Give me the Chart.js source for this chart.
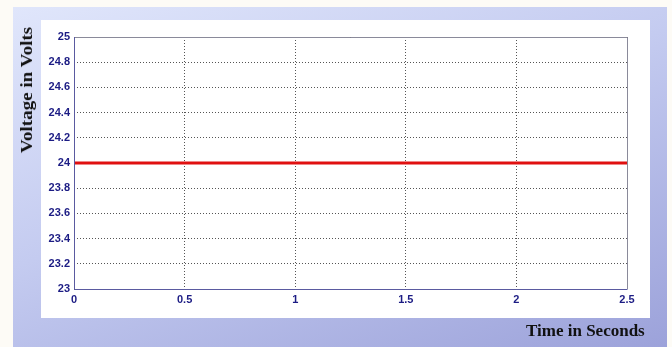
<!DOCTYPE html>
<html>
<head>
<meta charset="utf-8">
<script src="https://cdn.jsdelivr.net/npm/chart.js@4"></script>
<style>
  html, body { margin: 0; padding: 0; width: 672px; height: 347px; overflow: hidden; background: #fdfbf6; }
  #panel { position: absolute; left: 13px; top: 7px; width: 654px; height: 340px;
    background: linear-gradient(160deg, #e0e6fb 0%, #c4cbf0 45%, #9ca2da 100%); }
  #inner { position: absolute; left: 41px; top: 20px; width: 609px; height: 298px; background: #ffffff; }
  #wrap { position: absolute; left: 0; top: 0; width: 672px; height: 347px; }
  .t { position: absolute; font-family: "Liberation Serif", "Times New Roman", serif; font-weight: bold; color: #111; font-size: 17px; white-space: nowrap; }
  #ytitle { left: 27px; top: 90px; transform: translate(-50%, -50%) rotate(-90deg) scaleX(1.12); }
  #xtitle { left: 526px; top: 321px; }
</style>
</head>
<body>
<div id="panel"></div>
<div id="inner"></div>
<div id="wrap"><canvas id="c" width="672" height="347"></canvas></div>
<div class="t" id="ytitle">Voltage in Volts</div>
<div class="t" id="xtitle">Time in Seconds</div>
<script>
const timeSeconds = [0, 0.5, 1, 1.5, 2, 2.5];
const voltage = [24, 24, 24, 24, 24, 24];
const xTicks = [0, 0.5, 1, 1.5, 2, 2.5];
const yTicks = [23, 23.2, 23.4, 23.6, 23.8, 24, 24.2, 24.4, 24.6, 24.8, 25];

const tickFont = { family: '"Liberation Sans Narrow", "Arial Narrow", "Liberation Sans", Arial, sans-serif', size: 11, weight: 'bold' };
const tickColor = '#1c1c84';

const framePlugin = {
  id: 'frame',
  afterDatasetsDraw(chart) {
    const a = chart.chartArea, ctx = chart.ctx;
    ctx.save();
    ctx.lineWidth = 1;
    ctx.strokeStyle = '#8a8a9a';
    ctx.beginPath();
    ctx.moveTo(a.left, a.top + 0.5); ctx.lineTo(a.right + 0.5, a.top + 0.5); ctx.lineTo(a.right + 0.5, a.bottom);
    ctx.stroke();
    ctx.strokeStyle = '#5a5aa0';
    ctx.beginPath();
    ctx.moveTo(a.left + 0.5, a.top); ctx.lineTo(a.left + 0.5, a.bottom + 0.5); ctx.lineTo(a.right + 0.5, a.bottom + 0.5);
    ctx.stroke();
    ctx.restore();
  }
};

new Chart(document.getElementById('c'), {
  type: 'line',
  data: {
    datasets: [{
      data: timeSeconds.map((t, i) => ({ x: t, y: voltage[i] })),
      borderColor: '#e01010',
      borderWidth: 3,
      pointRadius: 0,
      tension: 0
    }]
  },
  options: {
    responsive: false,
    animation: false,
    layout: { padding: { left: 0, right: 45, top: 37, bottom: 0 } },
    plugins: { legend: { display: false }, tooltip: { enabled: false } },
    scales: {
      x: {
        type: 'linear', min: 0, max: 2.5,
        afterBuildTicks(s) { s.ticks = xTicks.map(v => ({ value: v })); },
        afterFit(s) { s.height = 58; },
        grid: { color: '#555', drawTicks: false, lineWidth: 1 },
        border: { display: false, dash: [1, 2] },
        ticks: { font: tickFont, color: tickColor, padding: 4, maxRotation: 0, autoSkip: false,
          callback: v => String(v) }
      },
      y: {
        type: 'linear', min: 23, max: 25,
        afterBuildTicks(s) { s.ticks = yTicks.map(v => ({ value: v })); },
        afterFit(s) { s.width = 74; },
        grid: { color: '#555', drawTicks: false, lineWidth: 1 },
        border: { display: false, dash: [1, 2] },
        ticks: { font: tickFont, color: tickColor, padding: 4, autoSkip: false,
          callback: v => String(Math.round(v * 10) / 10) }
      }
    }
  },
  plugins: [framePlugin]
});
</script>
</body>
</html>
